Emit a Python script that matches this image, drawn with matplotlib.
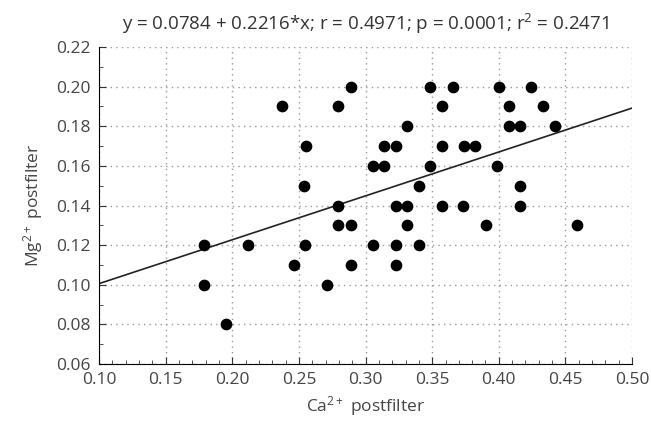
import numpy as np
import matplotlib
matplotlib.use("Agg")
import matplotlib.pyplot as plt
from matplotlib.ticker import MultipleLocator

plt.rcParams['font.family'] = ['Open Sans', 'DejaVu Sans']
plt.rcParams['mathtext.fontset'] = 'custom'
plt.rcParams['mathtext.rm'] = 'Open Sans'
plt.rcParams['mathtext.it'] = 'Open Sans'

# Ca2+ / Mg2+ postfilter readings
ca = [0.289, 0.348, 0.3655, 0.400, 0.4245,
      0.237, 0.2796, 0.357, 0.4075, 0.433,
      0.331, 0.4075, 0.4158, 0.4418,
      0.255, 0.314, 0.323, 0.357, 0.3735, 0.382,
      0.3055, 0.314, 0.348, 0.399,
      0.254, 0.3398, 0.4158,
      0.2796, 0.323, 0.331, 0.357, 0.373, 0.4158,
      0.2796, 0.289, 0.331, 0.3905, 0.4585,
      0.1785, 0.2118, 0.2543, 0.3055, 0.323, 0.3398,
      0.246, 0.289, 0.323,
      0.1785, 0.271,
      0.195]
mg = [0.20] * 5 + [0.19] * 5 + [0.18] * 4 + [0.17] * 6 + [0.16] * 4 + \
     [0.15] * 3 + [0.14] * 6 + [0.13] * 5 + [0.12] * 6 + [0.11] * 3 + \
     [0.10] * 2 + [0.08]

intercept = 0.0784
slope = 0.2216
line_x = [0.10, 0.50]

fig = plt.figure(figsize=(6.51, 4.24), dpi=100)
ax = fig.add_axes([0.152, 0.1415, 0.819, 0.7475])

ax.scatter(ca, mg, s=55, color='black', zorder=3)
ax.plot(line_x, [intercept + slope * v for v in line_x], color='#222222', lw=1.2, zorder=2)

ax.set_xlim(0.10, 0.50)
ax.set_ylim(0.06, 0.22)
ax.xaxis.set_major_locator(MultipleLocator(0.05))
ax.xaxis.set_minor_locator(MultipleLocator(0.01))
ax.yaxis.set_major_locator(MultipleLocator(0.02))
ax.yaxis.set_minor_locator(MultipleLocator(0.01))
ax.xaxis.set_major_formatter(plt.FuncFormatter(lambda v, p: '%.2f' % v))
ax.yaxis.set_major_formatter(plt.FuncFormatter(lambda v, p: '%.2f' % v))

ax.grid(True, which='major', linestyle=(0, (1, 3)), color='#999999', lw=1)
ax.spines['top'].set_visible(False)
ax.spines['right'].set_visible(False)
ax.tick_params(direction='in', which='both', colors='#333333', labelcolor='#444444', labelsize=12.5)
ax.tick_params(which='major', length=5)
ax.tick_params(which='minor', length=3)
ax.tick_params(axis='x', pad=6)
ax.tick_params(axis='y', pad=6)

ax.set_title('y = 0.0784 + 0.2216*x; r = 0.4971; p = 0.0001; r$^2$ = 0.2471',
             fontsize=13.5, color='#333333', pad=12)
ax.set_xlabel('Ca$^{2+}$ postfilter', fontsize=12.5, color='#444444', labelpad=4)
ax.set_ylabel('Mg$^{2+}$ postfilter', fontsize=12.5, color='#444444', labelpad=8)

fig.savefig('out.png', dpi=100)
